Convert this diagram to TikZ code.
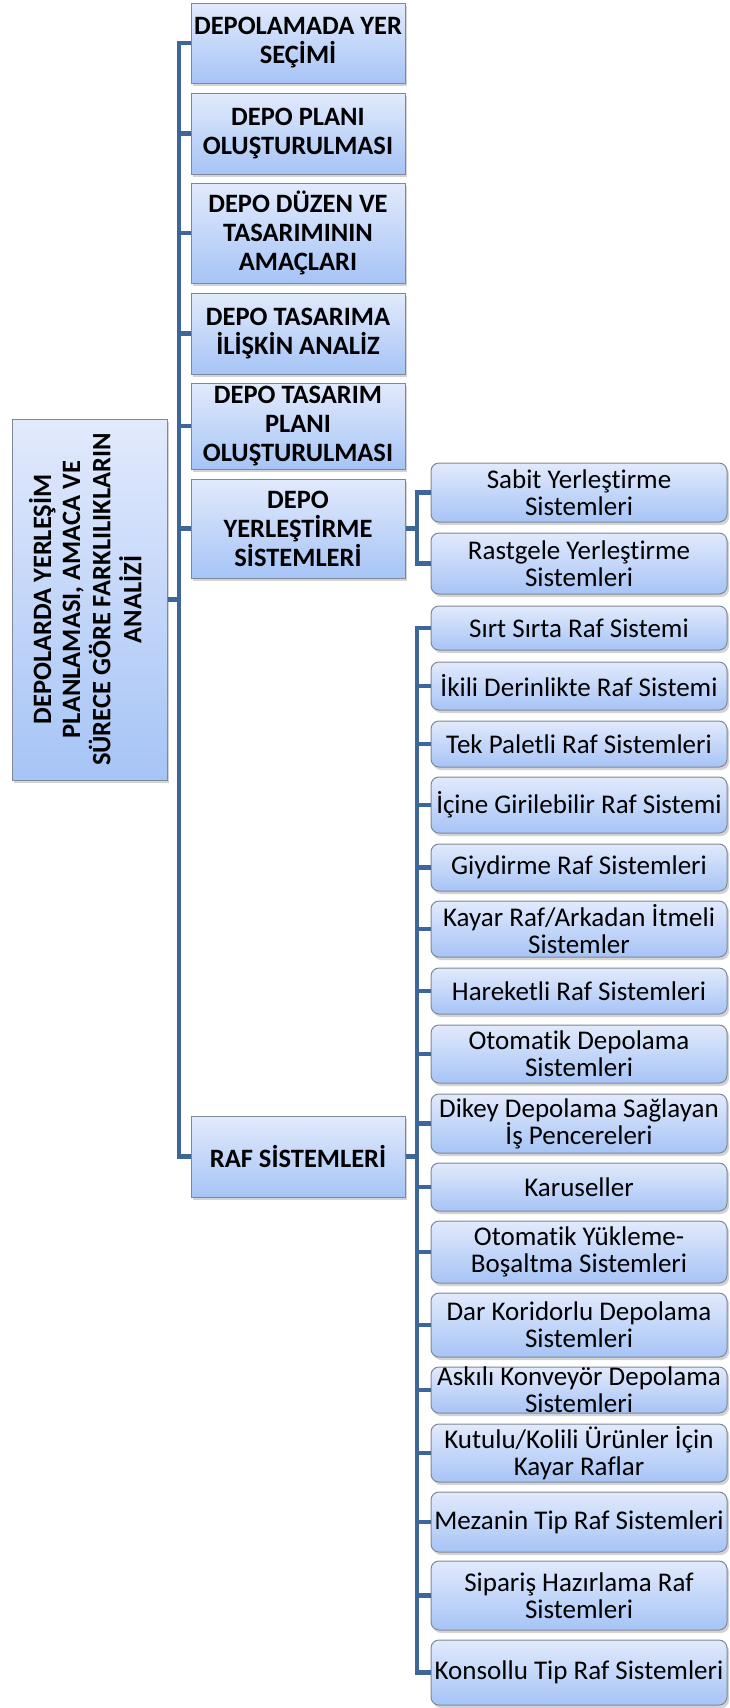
\documentclass[tikz,border=0pt]{standalone}
\usepackage{fontspec}
\setmainfont[Ligatures=NoCommon]{Carlito}
\usetikzlibrary{positioning,shadows}
\definecolor{linkblue}{RGB}{62,102,152}
\definecolor{boxtop}{RGB}{226,234,252}
\definecolor{boxbot}{RGB}{166,196,246}
\definecolor{boxline}{RGB}{128,136,150}

\begin{document}
\begin{tikzpicture}[x=1pt,y=-1pt,
  conn/.style={draw=linkblue,line width=4.8pt},
  card/.style={draw=boxline,line width=1pt,top color=boxtop,bottom color=boxbot,inner xsep=0pt,inner ysep=-4pt,align=center,
    drop shadow={opacity=0.35,shadow xshift=2pt,shadow yshift=-3pt}},
  topbox/.style={card,minimum width=214pt,font=\fontsize{26.5}{29}\selectfont\bfseries},
  leaf/.style={card,rounded corners=8pt,minimum width=296pt,font=\fontsize{27}{27}\selectfont}]
\useasboundingbox (0,0) rectangle (729,1708);
\coordinate (tk) at (179,0); \coordinate (tk2) at (417,0);
\node[card,minimum width=155pt,minimum height=361pt,font=\fontsize{26.5}{29}\selectfont\bfseries] (root) at (89.5,599.5)
  {\rotatebox{90}{\begin{tabular}{@{}c@{}}DEPOLARDA YERLEŞİM\\PLANLAMASI, AMACA VE\\SÜRECE GÖRE FARKLILIKLARIN\\ANALİZİ\end{tabular}}};
\node[topbox,minimum height=80pt] (yer) at (298,43) {DEPOLAMADA YER\\SEÇİMİ};
\node[topbox,minimum height=81pt] (plan) at (298,133.5) {DEPO PLANI\\OLUŞTURULMASI};
\node[topbox,minimum height=100pt] (amac) at (298,233) {DEPO DÜZEN VE\\TASARIMININ\\AMAÇLARI};
\node[topbox,minimum height=81pt] (analiz) at (298,333.5) {DEPO TASARIMA\\İLİŞKİN ANALİZ};
\node[topbox,minimum height=86pt] (tplan) at (298,426) {DEPO TASARIM\\PLANI\\OLUŞTURULMASI};
\node[topbox,minimum height=99pt] (yerles) at (298,528.5) {DEPO\\YERLEŞTİRME\\SİSTEMLERİ};
\node[topbox,minimum height=81pt] (raf) at (298,1156.5) {RAF SİSTEMLERİ};
\node[leaf,minimum height=59pt] (sabit) at (579,492.5) {Sabit Yerleştirme\\Sistemleri};
\node[leaf,minimum height=61pt] (rast) at (579,563.5) {Rastgele Yerleştirme\\Sistemleri};
\node[leaf,minimum height=44pt] (sirt) at (579,628) {Sırt Sırta Raf Sistemi};
\node[leaf,minimum height=48pt] (ikili) at (579,686) {İkili Derinlikte Raf Sistemi};
\node[leaf,minimum height=46pt] (tek) at (579,744) {Tek Paletli Raf Sistemleri};
\node[leaf,minimum height=56pt] (icine) at (579,805) {İçine Girilebilir Raf Sistemi};
\node[leaf,minimum height=47pt] (giy) at (579,867.5) {Giydirme Raf Sistemleri};
\node[leaf,minimum height=56pt] (kayar) at (579,929) {Kayar Raf/Arkadan İtmeli\\Sistemler};
\node[leaf,minimum height=46pt] (hrkt) at (579,991) {Hareketli Raf Sistemleri};
\node[leaf,minimum height=58pt] (otodep) at (579,1054) {Otomatik Depolama\\Sistemleri};
\node[leaf,minimum height=59pt] (dikey) at (579,1123.5) {Dikey Depolama Sağlayan\\İş Pencereleri};
\node[leaf,minimum height=48pt] (karu) at (579,1187) {Karuseller};
\node[leaf,minimum height=62pt] (otoyuk) at (579,1252) {Otomatik Yükleme-\\Boşaltma Sistemleri};
\node[leaf,minimum height=64pt] (dar) at (579,1325) {Dar Koridorlu Depolama\\Sistemleri};
\node[leaf,minimum height=46pt] (askili) at (579,1390) {Askılı Konveyör Depolama\\Sistemleri};
\node[leaf,minimum height=58pt] (kutu) at (579,1453) {Kutulu/Kolili Ürünler İçin\\Kayar Raflar};
\node[leaf,minimum height=60pt] (mez) at (579,1522) {Mezanin Tip Raf Sistemleri};
\node[leaf,minimum height=69pt] (sip) at (579,1595.5) {Sipariş Hazırlama Raf\\Sistemleri};
\node[leaf,minimum height=65pt] (kons) at (579,1672.5) {Konsollu Tip Raf Sistemleri};
\draw[conn] (root.east) -- (root.east -| tk) |- (yer.west); \draw[conn] (root.east) -- (root.east -| tk) |- (plan.west);
\draw[conn] (root.east) -- (root.east -| tk) |- (amac.west); \draw[conn] (root.east) -- (root.east -| tk) |- (analiz.west);
\draw[conn] (root.east) -- (root.east -| tk) |- (tplan.west); \draw[conn] (root.east) -- (root.east -| tk) |- (yerles.west);
\draw[conn] (root.east) -- (root.east -| tk) |- (raf.west);
\draw[conn] (yerles.east) -- (yerles.east -| tk2) |- (sabit.west); \draw[conn] (yerles.east) -- (yerles.east -| tk2) |- (rast.west);
\draw[conn] (raf.east) -- (raf.east -| tk2) |- (sirt.west); \draw[conn] (raf.east) -- (raf.east -| tk2) |- (ikili.west);
\draw[conn] (raf.east) -- (raf.east -| tk2) |- (tek.west); \draw[conn] (raf.east) -- (raf.east -| tk2) |- (icine.west);
\draw[conn] (raf.east) -- (raf.east -| tk2) |- (giy.west); \draw[conn] (raf.east) -- (raf.east -| tk2) |- (kayar.west);
\draw[conn] (raf.east) -- (raf.east -| tk2) |- (hrkt.west); \draw[conn] (raf.east) -- (raf.east -| tk2) |- (otodep.west);
\draw[conn] (raf.east) -- (raf.east -| tk2) |- (dikey.west); \draw[conn] (raf.east) -- (raf.east -| tk2) |- (karu.west);
\draw[conn] (raf.east) -- (raf.east -| tk2) |- (otoyuk.west); \draw[conn] (raf.east) -- (raf.east -| tk2) |- (dar.west);
\draw[conn] (raf.east) -- (raf.east -| tk2) |- (askili.west); \draw[conn] (raf.east) -- (raf.east -| tk2) |- (kutu.west);
\draw[conn] (raf.east) -- (raf.east -| tk2) |- (mez.west); \draw[conn] (raf.east) -- (raf.east -| tk2) |- (sip.west);
\draw[conn] (raf.east) -- (raf.east -| tk2) |- (kons.west);
\end{tikzpicture}
\end{document}
